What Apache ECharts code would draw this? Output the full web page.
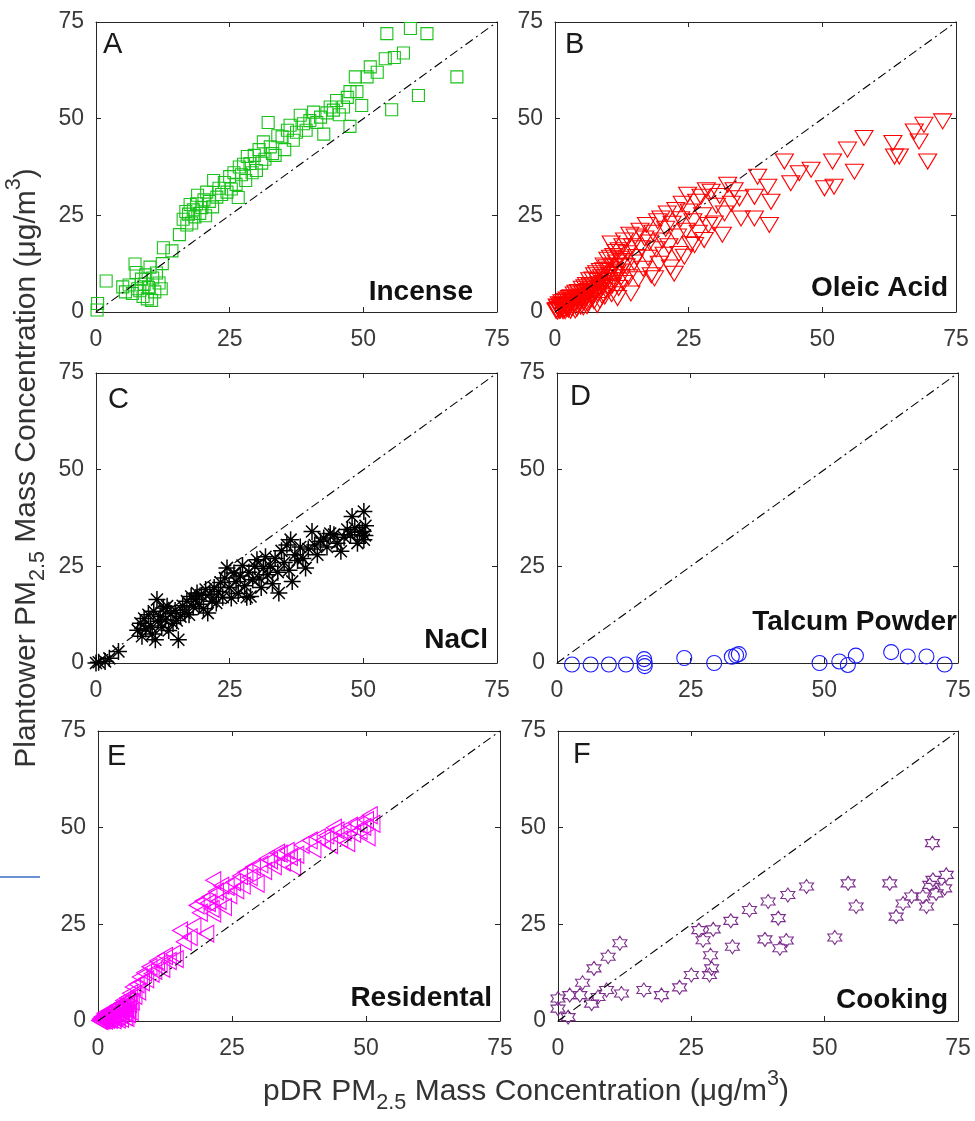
<!DOCTYPE html>
<html><head><meta charset="utf-8">
<script src="https://cdn.jsdelivr.net/npm/echarts@6/dist/echarts.min.js"></script>
<style>html,body{margin:0;padding:0;background:#fff}#c{width:975px;height:1121px}</style>
</head><body><div id="c"></div>
<script>
// ---------- data ----------
const axisTicks = [0, 25, 50, 75];
const identityLine = [[0, 0], [75, 75]];
const panelLetters = ['A', 'B', 'C', 'D', 'E', 'F'];
const panelNames = ['Incense', 'Oleic Acid', 'NaCl', 'Talcum Powder', 'Residental', 'Cooking'];

const incense = [[0.2,0.5],[0.3,2.2],[1.9,8.0],[5.0,6.5],[5.5,5.2],[6.2,7.0],[6.8,4.8],[7.3,12.4],[7.5,10.2],[7.8,6.0],[8.2,5.5],[8.5,8.5],[8.8,4.0],[9.0,7.2],[9.3,9.6],[9.6,3.4],[9.8,6.3],[10.1,11.6],[10.4,3.0],[10.6,8.8],[11.0,5.2],[11.3,10.1],[11.8,7.5],[12.2,6.0],[12.4,12.5],[12.6,16.6],[14.2,15.8],[15.6,20.0],[16.3,24.0],[16.8,26.0],[17.0,22.5],[17.3,25.3],[17.6,27.8],[17.9,23.0],[18.2,26.4],[18.5,24.6],[18.8,28.0],[19.0,30.2],[19.4,25.5],[19.8,27.0],[20.2,29.0],[20.5,24.9],[20.7,31.0],[21.2,28.6],[21.8,27.2],[22.0,34.0],[22.6,29.7],[23.0,32.0],[23.5,30.4],[24.0,33.5],[24.5,31.0],[25.0,35.0],[25.3,31.8],[25.8,36.0],[26.2,33.0],[26.6,29.6],[26.8,37.5],[27.2,35.5],[27.6,38.2],[28.0,34.0],[28.3,40.2],[28.8,38.4],[29.2,36.0],[29.6,40.5],[30.0,36.6],[30.5,42.0],[31.0,38.5],[31.3,44.0],[31.6,39.5],[32.2,49.0],[32.6,42.7],[33.0,41.0],[33.5,40.5],[34.0,45.6],[34.8,45.3],[35.3,42.0],[35.8,47.0],[36.3,48.3],[36.9,44.4],[37.5,46.5],[38.2,50.9],[38.8,48.7],[39.3,47.0],[40.0,49.5],[40.7,51.7],[41.3,49.0],[42.0,50.4],[42.6,46.0],[43.2,51.5],[43.8,53.0],[44.4,52.2],[45.0,54.7],[45.5,51.0],[46.3,53.0],[47.0,55.5],[47.5,48.0],[47.5,57.0],[48.5,60.8],[48.8,57.0],[49.7,53.4],[50.7,60.8],[51.3,63.4],[52.6,62.0],[54.1,65.5],[54.4,72.0],[55.3,52.3],[55.8,65.8],[57.5,67.0],[58.8,73.3],[60.3,56.0],[61.9,72.0],[67.5,60.8]];

const oleicAcid = [[0.2,0.3],[0.4,1.4],[0.5,0.1],[0.7,0.8],[0.8,2.0],[1.0,0.4],[1.1,1.1],[1.3,2.5],[1.5,0.2],[1.6,1.6],[1.8,0.7],[2.0,2.9],[2.2,0.9],[2.4,2.0],[2.6,1.2],[2.7,3.6],[2.9,0.3],[3.2,2.4],[3.3,1.6],[3.5,3.2],[3.7,2.0],[3.9,5.0],[4.1,0.9],[4.3,2.9],[4.5,4.0],[4.8,1.4],[5.0,3.0],[5.2,4.8],[5.4,2.4],[5.6,6.4],[5.8,3.8],[6.0,1.5],[6.2,5.4],[6.4,3.0],[6.6,6.8],[6.9,4.6],[7.1,8.4],[7.3,2.8],[7.5,6.0],[7.8,10.0],[8.0,4.8],[8.2,7.2],[8.4,3.0],[8.7,9.0],[8.9,6.4],[9.1,10.8],[9.3,4.0],[9.5,8.0],[9.7,11.6],[10.0,6.4],[10.2,9.6],[10.4,14.0],[10.6,4.6],[10.9,11.8],[11.1,8.2],[11.4,15.5],[11.6,10.2],[11.9,6.2],[12.1,13.8],[12.4,9.0],[12.7,17.0],[12.9,12.0],[0.3,0.5],[0.6,1.2],[0.9,0.3],[1.2,1.8],[1.4,0.8],[1.7,2.6],[1.9,0.2],[2.1,1.5],[2.3,3.2],[2.5,0.6],[2.8,2.2],[3.0,3.8],[3.1,1.0],[3.4,2.8],[3.6,4.5],[3.8,0.4],[4.0,3.4],[4.2,1.8],[4.4,5.2],[4.6,2.6],[4.9,4.0],[5.1,6.0],[5.3,1.2],[5.5,3.5],[5.7,5.0],[5.9,7.0],[6.1,2.2],[6.3,4.4],[6.5,8.2],[6.7,5.8],[7.0,3.6],[7.2,7.0],[7.4,9.5],[7.6,5.0],[7.9,1.8],[8.1,8.0],[8.3,6.2],[8.5,10.6],[8.8,4.2],[9.0,7.5],[9.2,12.0],[9.4,9.0],[9.6,5.5],[9.9,13.5],[10.1,8.2],[10.3,11.0],[10.5,17.7],[10.7,6.8],[11.0,14.5],[11.2,9.8],[11.5,12.8],[11.7,3.6],[12.0,16.0],[12.2,10.5],[12.5,13.2],[12.8,7.5],[13.0,18.5],[13.3,11.8],[13.5,15.2],[13.8,9.0],[14.0,20.0],[14.2,4.8],[14.5,17.0],[14.8,12.8],[15.0,19.5],[15.3,14.2],[15.6,8.5],[15.9,21.0],[16.2,16.5],[16.5,11.2],[16.8,19.0],[17.1,22.5],[17.4,14.0],[17.7,18.0],[18.0,9.5],[18.3,20.5],[18.6,8.7],[18.9,16.2],[19.2,23.5],[19.5,12.5],[19.8,24.2],[20.1,18.5],[20.4,14.8],[20.7,21.5],[21.0,25.5],[21.3,17.0],[21.6,11.5],[21.9,22.8],[22.3,9.9],[22.6,26.4],[22.9,19.5],[23.2,15.0],[23.5,24.0],[23.8,28.0],[24.2,14.3],[24.5,21.0],[24.8,30.3],[25.1,26.0],[25.4,17.5],[25.8,23.5],[26.1,17.3],[26.5,28.5],[26.8,20.5],[27.3,29.8],[27.6,25.0],[27.9,18.6],[28.3,31.5],[28.7,22.5],[29.2,31.1],[29.8,22.9],[30.2,27.5],[30.8,30.0],[31.3,20.0],[31.7,25.5],[32.3,32.9],[33.0,28.0],[33.5,31.5],[34.5,29.4],[34.8,24.2],[37.3,24.2],[37.3,29.8],[37.9,35.0],[39.8,32.4],[40.1,22.5],[40.4,28.5],[42.9,38.9],[44.1,33.3],[45.7,35.9],[47.9,36.8],[50.4,32.0],[51.9,38.9],[52.2,32.4],[54.7,42.0],[56.0,36.3],[57.8,45.0],[63.2,43.7],[63.5,40.2],[64.4,40.2],[67.2,46.7],[68.1,44.1],[69.0,48.4],[69.7,38.9],[72.5,49.3]];

const naCl = [[0,0],[0.5,0.2],[1.7,0.4],[2.5,1.2],[4.2,3.0],[7.8,8.5],[8.3,10.3],[8.6,6.9],[9.0,11.5],[9.3,8.8],[9.8,12.5],[10.2,9.6],[10.5,7.5],[10.8,13.4],[11.1,6.0],[11.4,16.4],[11.6,10.8],[12.0,12.0],[12.3,9.2],[12.6,14.2],[13.0,11.2],[13.3,14.7],[13.6,8.4],[14.0,12.8],[14.4,10.2],[14.8,13.6],[15.1,11.0],[15.4,6.0],[15.8,12.0],[16.2,14.8],[16.6,13.0],[17.0,16.0],[17.4,12.5],[17.8,17.2],[18.2,14.5],[18.6,16.5],[18.9,18.1],[19.3,15.2],[19.7,17.5],[20.1,14.0],[20.5,19.0],[20.9,12.9],[21.3,17.8],[21.7,16.0],[22.1,19.5],[22.5,15.5],[22.9,18.5],[23.3,20.8],[23.7,17.0],[24.1,22.0],[24.5,24.6],[24.9,19.5],[25.3,16.8],[25.8,23.3],[26.2,21.0],[26.6,18.0],[27.0,22.5],[27.4,25.2],[27.8,20.0],[28.2,17.0],[28.6,23.5],[28.9,17.2],[29.3,21.5],[29.7,25.0],[30.1,26.7],[30.5,22.0],[30.9,19.5],[31.3,24.5],[31.7,27.5],[32.1,22.8],[32.6,25.0],[33.0,20.5],[33.5,27.0],[34.0,23.5],[34.2,18.1],[34.7,29.0],[35.2,26.0],[35.7,30.5],[36.1,24.0],[36.4,31.9],[36.7,21.1],[37.2,28.0],[37.7,26.5],[38.2,30.0],[38.7,27.0],[39.2,24.6],[39.7,29.5],[40.4,34.0],[40.9,30.5],[41.4,28.0],[42.0,31.5],[42.6,32.3],[43.2,30.0],[43.8,33.5],[44.5,33.2],[45.1,31.0],[45.8,28.9],[46.4,32.5],[47.0,34.5],[47.6,33.2],[47.9,37.9],[48.4,35.0],[48.9,31.0],[49.3,33.8],[49.8,34.0],[50.1,39.2],[50.1,31.9],[50.4,35.5],[50.3,33.0]];

const talcumPowder = [[2.8,-0.4],[6.3,-0.4],[9.7,-0.4],[12.9,-0.4],[16.3,1.0],[16.4,0],[16.4,-0.8],[23.8,1.3],[29.4,0],[32.7,1.6],[33.5,2.0],[34.0,2.3],[49.1,0],[52.8,0.4],[54.4,-0.5],[55.9,1.9],[62.5,2.8],[65.6,1.7],[69.1,1.7],[72.5,-0.4]];

const residential = [[0.2,0.1],[0.4,0.6],[0.5,0.0],[0.7,1.1],[0.8,0.2],[1.0,0.7],[1.2,2.0],[1.3,0.1],[1.5,1.2],[1.7,0.3],[1.9,1.6],[2.1,2.6],[2.3,0.5],[2.5,1.3],[2.7,3.0],[2.9,0.2],[3.1,2.4],[3.3,1.0],[3.5,3.8],[3.7,0.4],[3.9,2.0],[4.1,3.4],[4.3,0.6],[4.5,2.4],[4.8,4.2],[5.0,1.0],[5.2,3.0],[5.4,5.2],[5.6,1.8],[5.8,4.4],[6.1,2.4],[0.3,0.2],[0.6,0.8],[0.9,0.3],[1.1,1.5],[1.4,0.5],[1.6,0.6],[1.8,2.2],[2.0,1.0],[2.2,0.3],[2.4,2.8],[2.6,1.6],[2.8,1.9],[3.0,0.7],[3.2,3.4],[3.4,2.2],[3.6,1.2],[3.8,4.0],[4.0,2.8],[4.2,1.5],[4.4,4.6],[4.6,3.2],[4.7,5.3],[4.9,2.0],[5.1,4.0],[5.3,0.8],[5.5,6.0],[5.7,3.0],[6.0,7.2],[6.3,5.0],[6.5,8.8],[6.8,6.5],[7.2,9.5],[7.5,7.6],[7.8,11.4],[8.2,10.0],[8.6,12.5],[9.0,10.8],[9.6,14.0],[10.0,12.2],[10.5,13.0],[11.0,15.5],[11.5,14.8],[12.0,13.5],[12.5,16.8],[13.2,15.5],[14.0,17.4],[14.5,16.0],[15.3,23.4],[16.0,20.5],[17.1,21.7],[17.8,24.5],[18.4,29.9],[19.0,28.0],[19.5,31.0],[20.2,22.6],[20.5,30.5],[20.8,32.1],[21.2,29.0],[21.5,27.8],[21.5,36.4],[22.0,33.5],[22.5,31.0],[23.0,35.0],[23.5,29.5],[24.0,34.7],[24.5,32.5],[25.2,35.9],[25.8,33.8],[26.5,37.5],[27.0,35.0],[27.5,38.5],[28.3,37.2],[28.9,39.8],[29.6,35.5],[30.3,40.5],[31.0,38.8],[31.5,42.0],[32.1,41.5],[32.8,40.0],[33.4,43.5],[33.9,43.3],[34.5,41.0],[35.2,44.0],[35.8,42.4],[36.4,39.8],[37.0,43.0],[38.0,45.5],[39.5,46.7],[40.2,44.5],[41.0,47.5],[42.0,46.7],[42.6,48.0],[43.3,45.5],[44.0,50.0],[44.5,49.3],[45.2,47.0],[45.8,48.8],[46.5,46.0],[47.0,50.5],[47.6,48.4],[48.2,51.0],[48.8,49.2],[49.5,50.2],[50.0,52.0],[50.3,47.5],[50.7,53.2],[51.2,51.0]];

const cooking = [[0,5.8],[0,3.2],[1.9,1.0],[2.2,6.7],[4.1,6.7],[4.6,9.9],[6.3,4.5],[6.75,13.6],[7.5,6.2],[9.1,8.0],[9.4,16.6],[11.6,20.1],[11.9,7.1],[16.1,8.0],[19.4,6.7],[22.8,8.7],[25.0,11.9],[26.4,23.5],[27.2,20.9],[28.4,11.9],[28.6,17.0],[28.8,13.6],[29.1,23.7],[32.4,25.9],[32.7,19.2],[35.9,28.7],[38.8,21.1],[39.4,30.9],[41.3,26.6],[41.6,18.8],[42.8,20.8],[43.1,32.6],[46.6,34.8],[51.9,21.6],[54.4,35.6],[55.9,29.6],[62.2,35.6],[63.4,27.0],[64.7,30.4],[66.3,32.2],[68.4,32.2],[69.1,29.6],[69.7,35.2],[70.2,46.0],[70.3,36.5],[70.9,33.0],[72.5,34.3],[72.8,37.8]];

// ---------- styling / layout ----------
const FONT = '"Liberation Sans", Arial, Helvetica, sans-serif';
const AX = '#262626';
const gridBoxes = [
  {left: 96, top: 22, width: 401, height: 290},
  {left: 555, top: 22, width: 401, height: 290},
  {left: 96, top: 373, width: 401, height: 290},
  {left: 557, top: 373, width: 401, height: 290},
  {left: 98, top: 731, width: 402, height: 290},
  {left: 558, top: 731, width: 400, height: 290}
];
const HEX = 'path://M0,-10L2.887,-5L8.66,-5L5.77,0L8.66,5L2.887,5L0,10L-2.887,5L-8.66,5L-5.77,0L-8.66,-5L-2.887,-5Z';
const AST = 'path://M0,-10L0,10M-10,0L10,0M-7.07,-7.07L7.07,7.07M-7.07,7.07L7.07,-7.07';
const markerStyles = [
  {data: incense, symbol: 'rect', size: 12, rotate: 0, color: '#19c219', bw: 1.1},
  {data: oleicAcid, symbol: 'triangle', size: [18, 15], rotate: 180, color: '#ff0000', bw: 1.1},
  {data: naCl, symbol: AST, size: 17, rotate: 0, color: '#000000', bw: 1.5},
  {data: talcumPowder, symbol: 'circle', size: 15, rotate: 0, color: '#1a1aff', bw: 1.1},
  {data: residential, symbol: 'triangle', size: [17, 15], rotate: 90, color: '#ff00ff', bw: 1.1},
  {data: cooking, symbol: HEX, size: 14, rotate: 0, color: '#7e2f8e', bw: 1.1}
];
const letterPos = [[103, 45], [565, 45], [108, 400], [570, 397], [107, 757], [573, 755]];
const namePos = [[473, 292], [948, 288], [488, 640], [957, 622], [492, 998], [948, 1000]];

const grids = [], xAxes = [], yAxes = [], series = [];
gridBoxes.forEach((g, i) => {
  grids.push(Object.assign({containLabel: false}, g));
  const base = {
    gridIndex: i, type: 'value', min: axisTicks[0], max: axisTicks[axisTicks.length - 1],
    interval: axisTicks[1] - axisTicks[0],
    splitLine: {show: false},
    axisLine: {show: true, onZero: false, lineStyle: {color: AX, width: 1}},
    axisTick: {show: true, inside: true, length: 5, lineStyle: {color: AX}}
  };
  xAxes.push(Object.assign({}, base, {position: 'bottom',
    axisLabel: {show: true, fontSize: 23, color: '#3a3a3a', fontFamily: FONT, margin: 16}}));
  xAxes.push(Object.assign({}, base, {position: 'top', axisLabel: {show: false}}));
  yAxes.push(Object.assign({}, base, {position: 'left',
    axisLabel: {show: true, fontSize: 23, color: '#3a3a3a', fontFamily: FONT, margin: 12}}));
  yAxes.push(Object.assign({}, base, {position: 'right', axisLabel: {show: false}}));
  series.push({
    type: 'line', xAxisIndex: 2 * i, yAxisIndex: 2 * i, data: identityLine,
    symbol: 'none', silent: true, animation: false,
    lineStyle: {color: '#000', width: 1.1, type: [9, 4, 2, 4]}
  });
  const m = markerStyles[i];
  series.push({
    type: 'scatter', xAxisIndex: 2 * i, yAxisIndex: 2 * i, data: m.data,
    symbol: m.symbol, symbolSize: m.size, symbolRotate: m.rotate, clip: false,
    animation: false,
    itemStyle: {color: 'rgba(0,0,0,0)', borderColor: m.color, borderWidth: m.bw, opacity: 1}
  });
});

// ---------- text graphics ----------
const mctx = document.createElement('canvas').getContext('2d');
function tw(t, size, weight) { mctx.font = (weight || 'normal') + ' ' + size + 'px ' + FONT; return mctx.measureText(t).width; }
function titleGroup(parts, fs, cx, cy, rot) {
  const items = parts.map(p => {
    const s = p.k ? fs * 0.72 : fs;
    return {p, s, w: tw(p.t, s)};
  });
  const total = items.reduce((a, b) => a + b.w, 0);
  let x = -total / 2;
  const children = items.map(it => {
    const dy = it.p.k === 'sub' ? fs * 0.38 : it.p.k === 'sup' ? -fs * 0.42 : 0;
    const el = {type: 'text', x: x, y: dy, style: {text: it.p.t, font: it.s + 'px ' + FONT, fill: '#333', textAlign: 'left', textVerticalAlign: 'middle'}};
    x += it.w;
    return el;
  });
  return {type: 'group', x: cx, y: cy, rotation: rot, children};
}
const graphics = [];
panelLetters.forEach((L, i) => graphics.push({type: 'text', x: letterPos[i][0], y: letterPos[i][1],
  style: {text: L, font: '29px ' + FONT, fill: '#1a1a1a', textAlign: 'left', textVerticalAlign: 'middle'}}));
panelNames.forEach((n, i) => graphics.push({type: 'text', x: namePos[i][0], y: namePos[i][1],
  style: {text: n, font: 'bold 28px ' + FONT, fill: '#111', textAlign: 'right', textVerticalAlign: 'middle'}}));
graphics.push(titleGroup([{t: 'pDR PM'}, {t: '2.5', k: 'sub'}, {t: ' Mass Concentration ('}, {t: 'μ'}, {t: 'g/m'}, {t: '3', k: 'sup'}, {t: ')'}], 30, 526, 1092, 0));
graphics.push(titleGroup([{t: 'Plantower PM'}, {t: '2.5', k: 'sub'}, {t: ' Mass Concentration ('}, {t: 'μ'}, {t: 'g/m'}, {t: '3', k: 'sup'}, {t: ')'}], 30, 27, 468, Math.PI / 2));
graphics.push({type: 'line', shape: {x1: 0, y1: 877, x2: 40, y2: 877}, style: {stroke: '#3a6fc9', lineWidth: 1.5}});

const chart = echarts.init(document.getElementById('c'), null, {renderer: 'canvas'});
chart.setOption({
  animation: false, backgroundColor: '#fff',
  grid: grids, xAxis: xAxes, yAxis: yAxes, series, graphic: graphics
});
</script></body></html>
